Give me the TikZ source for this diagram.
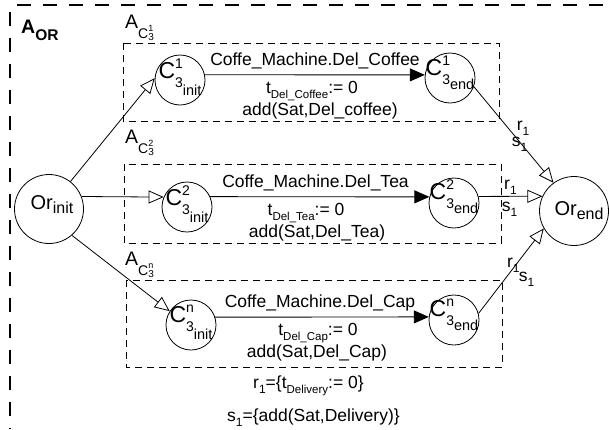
\documentclass[tikz,border=0pt]{standalone}
\usepackage{fontspec}
\setmainfont{Liberation Sans}
\usetikzlibrary{arrows.meta}

% font size shorthand
\newcommand\fs[1]{\fontsize{#1}{#1}\selectfont}
% lowered subscript: drop, size, text
\newcommand\lowsub[3]{\raisebox{-#1pt}{\fs{#2}#3}}
% r_1 / s_1 style names
\newcommand\rs[1]{#1\raisebox{-5pt}{\fs{12}1}}
% state name C^{k}_{3_{x}}: superscript, inner subscript, inner drop
\newcommand\cstate[3]{\fs{23}C\rlap{\raisebox{10pt}{\fs{14}#1}}\raisebox{-9pt}{\fs{14}3\raisebox{-#3pt}{\fs{14.5}#2}}}
% group label A_{C^{k}_3}
\newcommand\alab[1]{\fs{19.5}A\raisebox{-10pt}{\fs{14}C\rlap{\raisebox{7pt}{\fs{9}#1}}\raisebox{-2pt}{\fs{10}3}}}
% Or_{x}
\newcommand\orname[1]{\fs{20}Or\raisebox{-4pt}{\fs{16}#1}}

\tikzset{
  frame/.style={line width=2.4pt, dash pattern=on 14pt off 12pt, dash phase=19pt},
  group/.style={draw, line width=0.8pt, dash pattern=on 7pt off 5pt},
  state/.style={draw, circle, line width=0.8pt, minimum size=50pt, inner sep=0pt},
  orstate/.style={draw, circle, line width=0.8pt, minimum size=69pt, inner sep=0pt},
  act/.style={draw, line width=0.9pt, -{Triangle[length=15pt,width=13pt]}},
  flow/.style={draw, line width=0.8pt, -{Triangle[open,length=15pt,width=13pt,line width=0.8pt]}},
  txt/.style={font=\fs{17.5}, inner sep=0pt, anchor=base},
  lbl/.style={font=\fs{17.5}, inner sep=0pt},
}

\begin{document}
\begin{tikzpicture}[x=1pt,y=-1pt]
\useasboundingbox (0,0) rectangle (609,429);

% outer composite frame (open to the right and below)
\draw[frame] (10,5) -- (609,5);
\draw[frame] (10,5) -- (10,429);
\node[txt, anchor=base west] (aor) at (21,33) {\bfseries\fs{19.5}A\raisebox{-7pt}{\fs{15.5}\bfseries OR}};

% dashed groups
\draw[group] (123,43) rectangle (499,121);
\draw[group] (124,164) rectangle (501,243);
\draw[group] (126,280) rectangle (502,367);
\node[txt, anchor=base west] (a1) at (125,28) {\alab{1}};
\node[txt, anchor=base west] (a2) at (125,143) {\alab{2}};
\node[txt, anchor=base west] (a3) at (125,265) {\alab{n}};

% states
\node[orstate, label={[xshift=3pt,yshift=4pt]center:\orname{init}}] (orinit) at (49,209) {};
\node[orstate, label={[xshift=5pt]center:\orname{end}}] (orend) at (574,211) {};

\node[state, label={[yshift=3pt]center:\cstate{1}{init}{8}}] (c1i) at (180,80) {};
\node[state, label={[yshift=5pt]center:\cstate{1}{end}{5}}] (c1e) at (450,78) {};
\node[state, label={[yshift=3pt]center:\cstate{2}{init}{8}}] (c2i) at (187,207) {};
\node[state, label={[yshift=6pt]center:\cstate{2}{end}{5}}] (c2e) at (454,203) {};
\node[state, label={[yshift=3pt]center:\cstate{n}{init}{8}}] (c3i) at (191,325) {};
\node[state, label={[yshift=5pt]center:\cstate{n}{end}{5}}] (c3e) at (454,320) {};

% branches out of Or_init
\draw[flow] (orinit.52) -- (c1i.176);
\draw[flow] (orinit.21) -- (c2i.157);
\draw[flow] (orinit.-49) -- (c3i.147);

% actions inside the groups
\draw[act] (c1i.12) -- (c1e.173);
\draw[act] (c2i.24) -- (c2e.166);
\draw[act] (c3i.18) -- (c3e.173);

\node[txt] (m1) at (315,65) {Coffe\_Machine.Del\_Coffee};
\node[txt] (t1) at (312,93) {t\lowsub{5}{11.5}{Del\_Coffee}:= 0};
\node[txt] (d1) at (320,115) {add(Sat,Del\_coffee)};

\node[txt] (m2) at (315.5,187) {Coffe\_Machine.Del\_Tea};
\node[txt] (t2) at (306,215) {t\lowsub{5}{11.5}{Del\_Tea}:= 0};
\node[txt] (d2) at (317,237) {add(Sat,Del\_Tea)};

\node[txt] (m3) at (320,307) {Coffe\_Machine.Del\_Cap};
\node[txt] (t3) at (318,335) {t\lowsub{5}{11.5}{Del\_Cap}:= 0};
\node[txt] (d3) at (317,357) {add(Sat,Del\_Cap)};

% joins into Or_end
\draw[flow] (c1e.-20) -- (orend.126)
  node[lbl, pos=.43, xshift=15pt] (r1a) {\rs{r}}
  node[lbl, pos=.6, xshift=-2pt] (s1a) {\rs{s}};
\draw[flow] (c2e.15) -- (orend.155)
  node[lbl, pos=.5, yshift=9pt] (r1b) {\rs{r}}
  node[lbl, pos=.5, xshift=-1pt, yshift=-13pt] (s1b) {\rs{s}};
\draw[flow] (c3e.15) -- (orend.210)
  node[lbl, pos=.565, xshift=-2pt] (r1c) {\rs{r}}
  node[lbl, pos=.4, xshift=22pt] (s1c) {\rs{s}};

% definitions of r_1 and s_1
\node[txt, anchor=base west] (rdef) at (253,388) {\rs{r}=\{t\lowsub{5}{11.5}{Delivery}:= 0\}};
\node[txt, anchor=base west] (sdef) at (227,421) {\rs{s}=\{add(Sat,Delivery)\}};
\end{tikzpicture}
\end{document}
